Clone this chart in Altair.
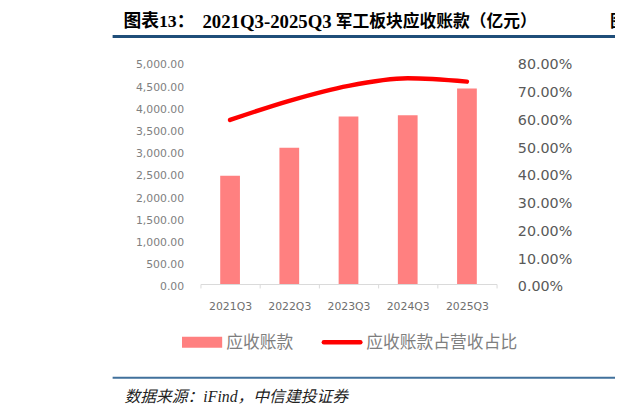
import altair as alt
import pandas as pd

# ---- data ----
quarters = ["2021Q3", "2022Q3", "2023Q3", "2024Q3", "2025Q3"]
receivables = [2438, 3067, 3771, 3800, 4400]          # 亿元
ratio = [0.591, 0.660, 0.714, 0.741, 0.729]            # 应收账款占营收占比
series_names = ["应收账款", "应收账款占营收占比"]
left_ticks = [0, 500, 1000, 1500, 2000, 2500, 3000, 3500, 4000, 4500, 5000]
right_ticks = [0, 0.1, 0.2, 0.3, 0.4, 0.5, 0.6, 0.7, 0.8]

title_prefix = "图表13："
title_range = "2021Q3-2025Q3"
title_rest = "军工板块应收账款（亿元）"
source_text = "数据来源：iFind，中信建投证券"

df = pd.DataFrame({"quarter": quarters, "receivables": receivables, "ratio": ratio})

BAR = "#ff8080"
LINE = "#ff0000"
CJK = "Noto Sans CJK SC"
NUM = "DejaVu Sans"

x_enc = alt.X(
    "quarter:N",
    sort=quarters,
    scale=alt.Scale(paddingInner=0, paddingOuter=0),
    axis=alt.Axis(
        title=None, labelAngle=0, grid=False, tickBand="extent",
        domainColor="#d9d9d9", tickColor="#d9d9d9", tickSize=4,
        labelFont=NUM, labelFontSize=11, labelColor="#6f6f6f", labelPadding=13,
    ),
)

bars = alt.Chart(df).mark_bar(size=20, color=BAR).encode(
    x=x_enc,
    y=alt.Y(
        "receivables:Q",
        scale=alt.Scale(domain=[0, 5000], nice=False),
        axis=alt.Axis(
            title=None, values=left_ticks, format=",.2f", grid=False, domain=False,
            ticks=False, tickSize=0, labelPadding=17, labelOffset=3,
            labelFont=NUM, labelFontSize=11, labelColor="#808080",
        ),
    ),
)

line = alt.Chart(df).mark_line(
    color=LINE, strokeWidth=4.5, strokeCap="round", interpolate="monotone"
).encode(
    x=x_enc,
    y=alt.Y(
        "ratio:Q",
        scale=alt.Scale(domain=[0, 0.8], nice=False),
        axis=alt.Axis(
            title=None, orient="right", values=right_ticks, format=".2%", grid=False,
            domain=False, ticks=False, tickSize=0, labelPadding=21, labelOffset=3,
            labelFont=NUM, labelFontSize=14.5, labelColor="#595959",
        ),
    ),
)

one = alt.Data(values=[{"k": 1}])

def txt(text, x, y, size, color="#000000", font=CJK, weight="normal", style="normal", align="left"):
    return alt.Chart(one).mark_text(
        text=text, align=align, baseline="middle", fontSize=size, font=font,
        fontWeight=weight, fontStyle=style, color=color,
    ).encode(x=alt.value(x), y=alt.value(y))

title_font = "Liberation Serif, " + CJK
t1 = txt(title_prefix, -78, -40.5, 18, font=title_font, weight="bold")
t2 = txt(title_range, 2, -40.5, 19, font=title_font, weight="bold")
t3 = txt(title_rest, 137, -40.5, 17, font=CJK, weight="bold")
t4 = txt("图", 415, -40.5, 17, font=CJK, weight="bold")

top_rule = alt.Chart(one).mark_rule(color="#1f4e79", strokeWidth=3).encode(
    x=alt.value(-89), x2=alt.value(430), y=alt.value(-25.7)
)
bottom_rule = alt.Chart(one).mark_rule(color="#41719c", strokeWidth=2).encode(
    x=alt.value(-89), x2=alt.value(430), y=alt.value(320)
)
source = txt(source_text, -77, 340, 16, color="#222222",
             font="Liberation Serif, " + CJK, style="italic")

leg_rect = alt.Chart(one).mark_rect(color=BAR).encode(
    x=alt.value(-18.7), x2=alt.value(22), y=alt.value(278.5), y2=alt.value(289.5)
)
leg_t1 = txt(series_names[0], 26, 285, 17, color="#7f7f7f")
leg_line = alt.Chart(one).mark_rule(color=LINE, strokeWidth=4.5, strokeCap="round").encode(
    x=alt.value(125), x2=alt.value(162), y=alt.value(284)
)
leg_t2 = txt(series_names[1], 168, 285, 17, color="#7f7f7f")

chart = alt.layer(
    bars, line, t1, t2, t3, t4, top_rule, bottom_rule, source,
    leg_rect, leg_t1, leg_line, leg_t2,
).resolve_scale(y="independent").properties(
    width=300, height=225,
    background="white",
    autosize=alt.AutoSizeParams(type="none"),
    padding={"left": 195, "top": 52, "right": 120, "bottom": 126},
).configure_view(strokeWidth=0)

chart.save("out.html", embed_options={"renderer": "svg", "actions": False})
